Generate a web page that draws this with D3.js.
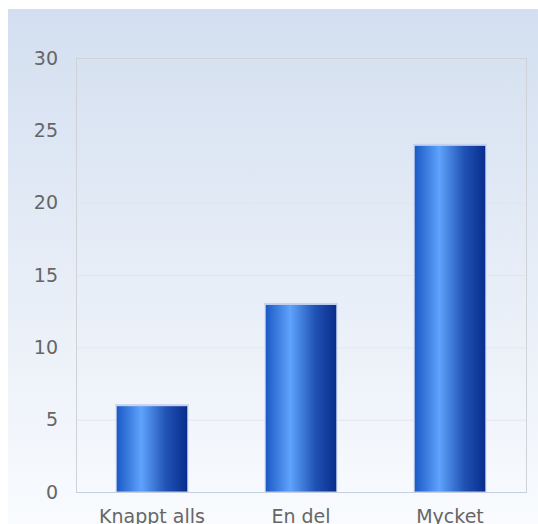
<!doctype html>
<html lang="sv">
<head>
<meta charset="utf-8">
<title>Chart</title>
<script src="https://cdn.jsdelivr.net/npm/d3@7"></script>
<style>
  body { margin: 0; background: #fff; }
  svg { display: block; font-family: "DejaVu Sans", Verdana, sans-serif; }
</style>
</head>
<body>
<svg id="chart" width="538" height="524"></svg>
<script>
  var categories = ["Knappt alls", "En del", "Mycket"];
  var values = [6, 13, 24];
  var yTicks = [0, 5, 10, 15, 20, 25, 30];

  var svg = d3.select("#chart");
  var defs = svg.append("defs");

  // background gradient, light blue at the top fading to white
  var bg = defs.append("linearGradient").attr("id", "bg")
      .attr("x1", 0).attr("y1", 0).attr("x2", 0).attr("y2", 1);
  bg.append("stop").attr("offset", "0%").attr("stop-color", "#d3dff0");
  bg.append("stop").attr("offset", "100%").attr("stop-color", "#f9fbfe");

  // bar gradient, left to right
  var bar = defs.append("linearGradient").attr("id", "bar")
      .attr("x1", 0).attr("y1", 0).attr("x2", 1).attr("y2", 0);
  bar.append("stop").attr("offset", "0%").attr("stop-color", "#1a58c4");
  bar.append("stop").attr("offset", "35%").attr("stop-color", "#5ea3fc");
  bar.append("stop").attr("offset", "70%").attr("stop-color", "#2052b4");
  bar.append("stop").attr("offset", "100%").attr("stop-color", "#082c8c");

  svg.append("rect")
      .attr("x", 8).attr("y", 9)
      .attr("width", 530).attr("height", 515)
      .attr("fill", "url(#bg)");

  // note: "top" is taken by window.top, so plot edges get their own names
  var plotLeft = 76, plotRight = 526, plotTop = 58, plotBottom = 492;

  var x = d3.scaleBand()
      .domain(categories)
      .range([plotLeft, plotRight])
      .paddingInner(0.52)
      .paddingOuter(0.27);

  var y = d3.scaleLinear()
      .domain([0, 30])
      .range([plotBottom, plotTop]);

  // grid lines
  svg.append("g").selectAll("line")
      .data(yTicks.filter(function (d) { return d > 0 && d < 30; }))
      .enter().append("line")
      .attr("x1", plotLeft).attr("x2", plotRight)
      .attr("y1", function (d) { return y(d) + 0.5; })
      .attr("y2", function (d) { return y(d) + 0.5; })
      .attr("stroke", "#e2e6ec")
      .attr("stroke-width", 1);

  // plot frame
  svg.append("rect")
      .attr("x", plotLeft + 0.5).attr("y", plotTop + 0.5)
      .attr("width", plotRight - plotLeft).attr("height", plotBottom - plotTop)
      .attr("fill", "none")
      .attr("stroke", "#cfd3d8");

  // y axis labels
  var yAxis = d3.axisLeft(y).tickValues(yTicks).tickSize(0).tickPadding(0);
  var gy = svg.append("g")
      .attr("transform", "translate(58,0)")
      .call(yAxis);
  gy.select(".domain").remove();
  gy.selectAll("text")
      .attr("font-size", 19)
      .attr("font-family", "DejaVu Sans, Verdana, sans-serif")
      .attr("fill", "#666")
      .attr("dy", "0.32em");

  // bars
  var bars = svg.append("g").selectAll("g")
      .data(values)
      .enter().append("g");

  bars.append("rect")
      .attr("x", function (d, i) { return x(categories[i]); })
      .attr("y", function (d) { return y(d); })
      .attr("width", x.bandwidth())
      .attr("height", function (d) { return plotBottom - y(d); })
      .attr("fill", "url(#bar)")
      .attr("stroke", "#b8c8ee")
      .attr("stroke-width", 1);

  // top highlight
  bars.append("rect")
      .attr("x", function (d, i) { return x(categories[i]) - 1; })
      .attr("y", function (d) { return y(d) - 1; })
      .attr("width", x.bandwidth() + 2)
      .attr("height", 2)
      .attr("fill", "#c5d3f0");

  // baseline
  svg.append("line")
      .attr("x1", plotLeft).attr("x2", plotRight)
      .attr("y1", plotBottom + 0.5).attr("y2", plotBottom + 0.5)
      .attr("stroke", "#c6cfe0");

  // x axis labels
  var xAxis = d3.axisBottom(x).tickSize(0).tickPadding(0);
  var gx = svg.append("g")
      .attr("transform", "translate(0," + plotBottom + ")")
      .call(xAxis);
  gx.select(".domain").remove();
  gx.selectAll("text")
      .attr("font-size", 19)
      .attr("font-family", "DejaVu Sans, Verdana, sans-serif")
      .attr("fill", "#666")
      .attr("dy", null)
      .attr("y", 31);
</script>
</body>
</html>
